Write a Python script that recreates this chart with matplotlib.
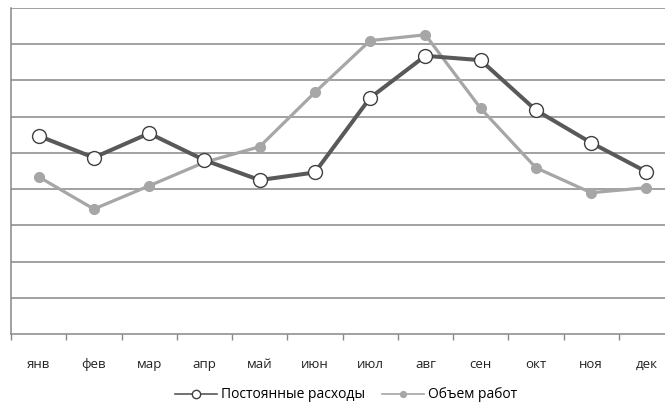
import matplotlib.pyplot as plt

# месяцы и значения двух рядов
months = ['янв', 'фев', 'мар', 'апр', 'май', 'июн', 'июл', 'авг', 'сен', 'окт', 'ноя', 'дек']
fixed_costs = [5.47, 4.87, 5.54, 4.80, 4.25, 4.46, 6.52, 7.68, 7.56, 6.18, 5.28, 4.48]
work_volume = [4.34, 3.45, 4.09, 4.74, 5.17, 6.67, 8.10, 8.26, 6.23, 4.59, 3.90, 4.04]

plt.rcParams['font.family'] = ['Open Sans', 'DejaVu Sans']

fig = plt.figure(figsize=(6.65, 4.12), dpi=100)
ax = fig.add_axes([11 / 665, 78 / 412, 663 / 665, 326 / 412])

x = list(range(len(months)))

# сетка
for v in range(1, 10):
    ax.axhline(v, color='#878787', lw=1.1, zorder=1)

ax.plot(x, work_volume, color='#a6a6a6', lw=2.3, marker='o', ms=7,
        mfc='#a6a6a6', mec='#a6a6a6', zorder=3, label='Объем работ')
ax.plot(x, fixed_costs, color='#595959', lw=2.9, marker='o', ms=10,
        mfc='white', mec='#404040', mew=1.0, zorder=4, label='Постоянные расходы')

ax.set_xlim(-0.5, 11.5)
ax.set_ylim(0, 9)
ax.set_yticks([])

ax.set_xticks([i - 0.5 for i in range(13)])
ax.set_xticklabels([])
ax.tick_params(axis='x', which='major', length=4, width=1, color='#878787', direction='out')
ax.set_xticks(x, minor=True)
ax.set_xticklabels(months, minor=True, fontsize=9.5, color='#222222')
ax.tick_params(axis='x', which='minor', length=0, pad=17)

for side in ['top', 'right']:
    ax.spines[side].set_visible(False)
for side in ['left', 'bottom']:
    ax.spines[side].set_color('#878787')
    ax.spines[side].set_linewidth(1.1)

handles, labels = ax.get_legend_handles_labels()
leg = fig.legend(handles[::-1], labels[::-1], loc='center', bbox_to_anchor=(346 / 665, 1 - 395 / 412),
                 ncol=2, frameon=False, fontsize=10, handlelength=3.0, columnspacing=1.2,
                 handletextpad=0.3, markerscale=0.6)
for h in leg.legend_handles:
    h.set_linewidth(1.2)

fig.savefig('out.png', dpi=100)
